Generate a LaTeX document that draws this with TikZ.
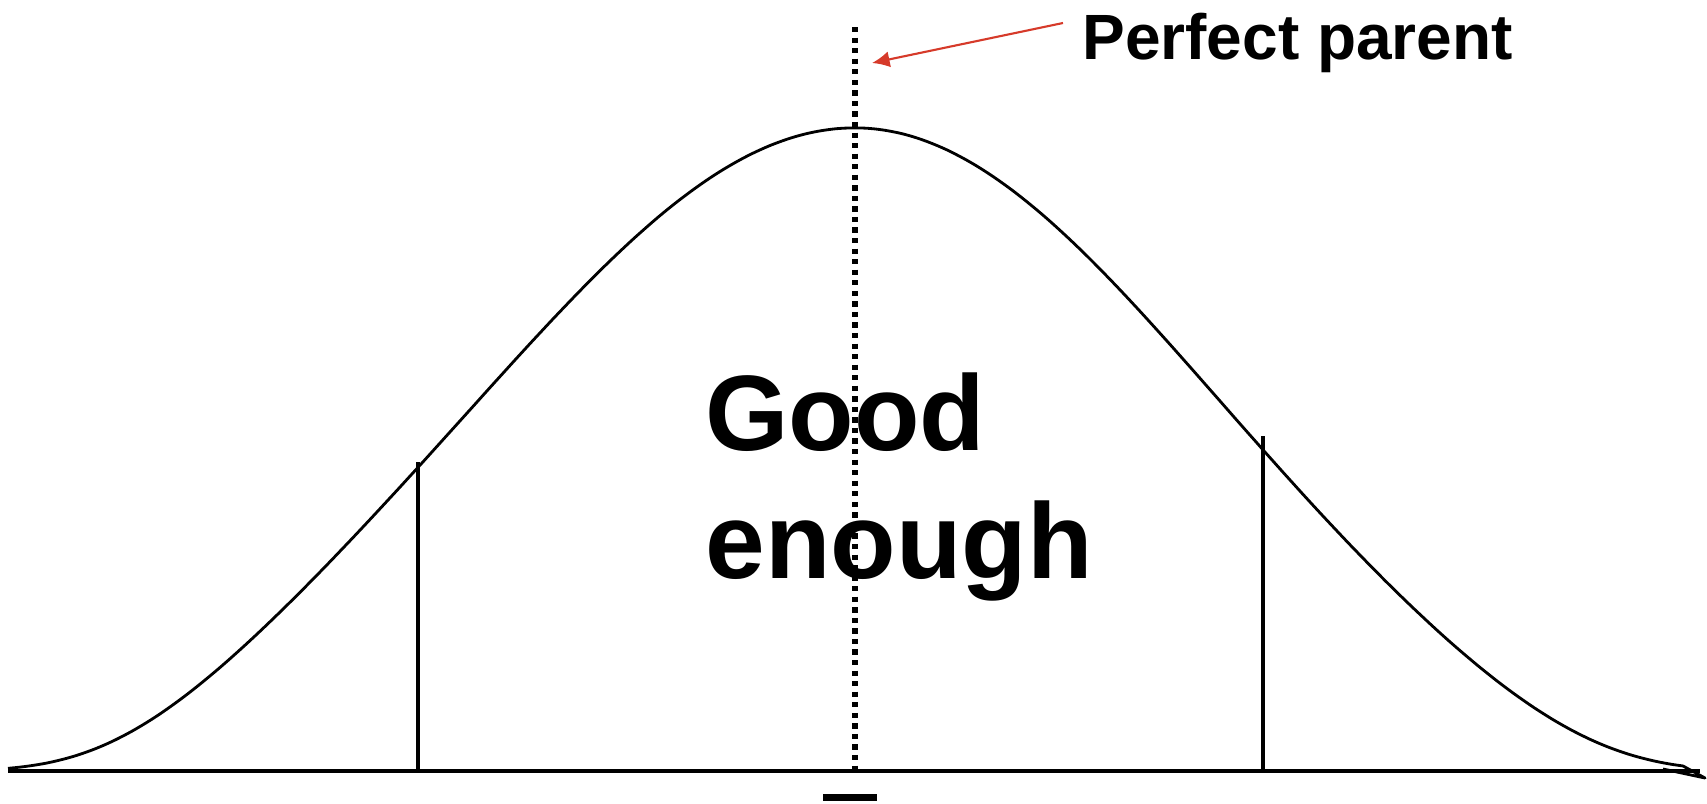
\documentclass[tikz,border=0pt]{standalone}
\usepackage{fontspec}
\setmainfont{Liberation Sans}
\usetikzlibrary{arrows.meta}
\definecolor{pointerred}{RGB}{214,58,42}

\begin{document}
\begin{tikzpicture}[x=0.01cm, y=-0.01cm, line width=0.8pt,
  declare function={lft(\t)=771-643*exp(-(\t*\t/25.92)*(1+(\t*\t/72.25)^3));
                    rgt(\t)=771-643*exp(-(\t*\t/24.22)*(1+(\t*\t/76.74)^3));},
  meanline/.style={line width=1.6pt, dash pattern=on 1.5pt off 1.5pt},
  bigtext/.style={anchor=base west, inner sep=0pt, font=\bfseries\fontsize{30.5}{36}\selectfont},
  labeltext/.style={anchor=base west, inner sep=0pt, font=\bfseries\fontsize{18.2}{22}\selectfont}]
  \useasboundingbox (0,0) rectangle (1707,803);
  % axis and bell curve
  \draw[line width=0.95pt] (8,771) -- (1700,771);
  \draw[line join=round]
    plot[domain=8:855, samples=90, smooth, variable=\x] ({\x},{lft((\x-855)/100)})
    -- plot[domain=855:1683, samples=90, smooth, variable=\x] ({\x},{rgt((\x-855)/100)})
    -- (1705,778) -- (1663,769);
  % cut-offs
  \draw[line width=0.95pt] (418,462) -- (418,771);
  \draw[line width=0.95pt] (1263,436) -- (1263,771);
  % mean
  \draw[meanline] (855,27) -- (855,771);
  \fill (823,794) rectangle (877,801);
  \node[bigtext] (good) at (704,450) {Good};
  \node[bigtext] (enough) at (704,578) {enough};
  \node[labeltext] (perfect) at (1081,59) {Perfect parent};
  \coordinate (tail) at (1063,23);
  \coordinate (tip) at (872,63);
  \draw[pointerred, line width=0.6pt, -{Latex[length=5pt, width=4.6pt]}] (tail) -- (tip);
\end{tikzpicture}
\end{document}
